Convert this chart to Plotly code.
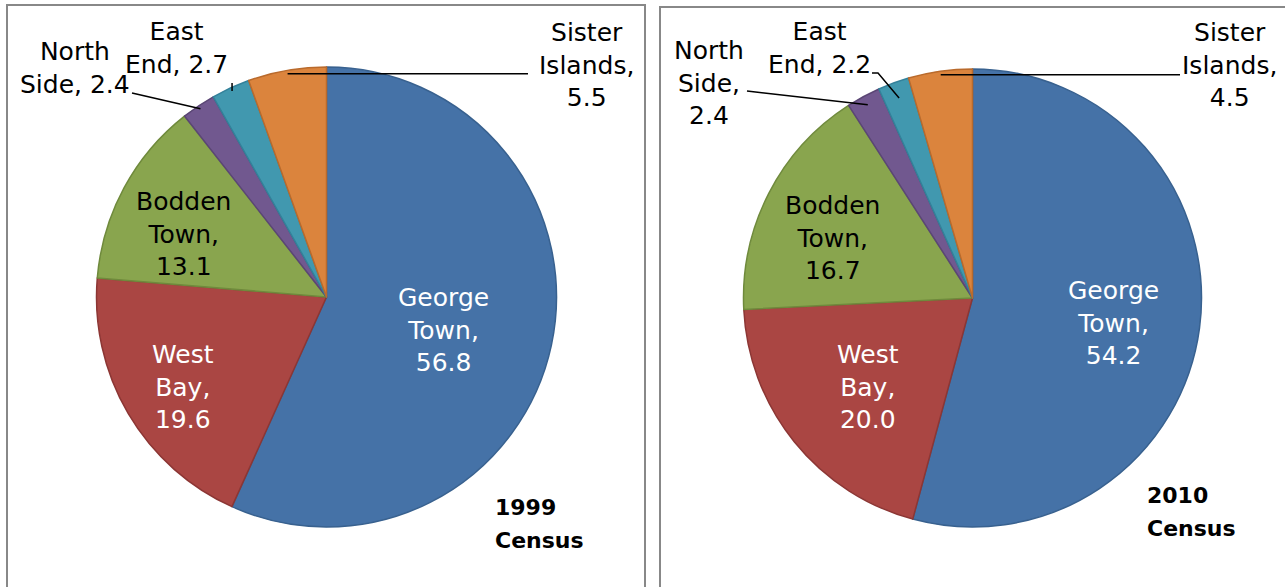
import math
import plotly.graph_objects as go

# ---- data ----
districts = ["George Town", "West Bay", "Bodden Town", "North Side", "East End", "Sister Islands"]
values_1999 = [56.8, 19.6, 13.1, 2.4, 2.7, 5.5]
values_2010 = [54.2, 20.0, 16.7, 2.4, 2.2, 4.5]
census_labels = [["1999", "Census"], ["2010", "Census"]]

# ---- style ----
W, H = 1285, 587
fill_colors = ["#4572A7", "#AA4643", "#89A54E", "#71588F", "#4198AF", "#DB843D"]
edge_colors = ["#38618F", "#8C3634", "#6F8A3C", "#5B4675", "#33819A", "#B96A2C"]
FONT = "DejaVu Sans"
FS = 25

# pie geometry (pixels): centre x, centre y, radius
pies = [
    dict(cx=326.5, cy=297.0, r=230.0),
    dict(cx=972.5, cy=298.0, r=229.0),
]

# label placement (pixels) per pie: text centre, colour
label_pos = [
    {
        "George Town": (443, 330, "white"),
        "West Bay": (183, 387, "white"),
        "Bodden Town": (183, 234, "black"),
        "North Side": (75, 68, "black"),
        "East End": (176, 48, "black"),
        "Sister Islands": (586, 65, "black"),
    },
    {
        "George Town": (1113, 323, "white"),
        "West Bay": (868, 387, "white"),
        "Bodden Town": (832, 238, "black"),
        "North Side": (709, 83, "black"),
        "East End": (820, 48, "black"),
        "Sister Islands": (1229, 65, "black"),
    },
]
label_text = [
    {
        "George Town": "George<br>Town,<br>{v}",
        "West Bay": "West<br>Bay,<br>{v}",
        "Bodden Town": "Bodden<br>Town,<br>{v}",
        "North Side": "North<br>Side, {v}",
        "East End": "East<br>End, {v}",
        "Sister Islands": "Sister<br>Islands,<br>{v}",
    },
    {
        "George Town": "George<br>Town,<br>{v}",
        "West Bay": "West<br>Bay,<br>{v}",
        "Bodden Town": "Bodden<br>Town,<br>{v}",
        "North Side": "North<br>Side,<br>{v}",
        "East End": "East<br>End, {v}",
        "Sister Islands": "Sister<br>Islands,<br>{v}",
    },
]
# leader line label-side points (pixels); "h" = horizontal to x, "v" = vertical to y
leaders = [
    {
        "North Side": ([("pt", 132, 93)], 0.985),
        "East End": ([("v", None, 83)], 0.985),
        "Sister Islands": ([("h", 528, None)], 0.985),
    },
    {
        "North Side": ([("pt", 747, 91)], 0.96),
        "East End": ([("pt", 878, 73), ("pt", 872, 73)], 0.93),
        "Sister Islands": ([("h", 1180, None)], 0.985),
    },
]
census_pos = [(493, 507), (1145, 495)]
CENSUS_LINE = 33


def px(x):
    return x / W


def py(y):
    return 1 - y / H


fig = go.Figure()
annotations = []
shapes = []

for k, vals in enumerate([values_1999, values_2010]):
    g = pies[k]
    fig.add_trace(go.Pie(
        labels=districts,
        values=vals,
        sort=False,
        direction="clockwise",
        rotation=0,
        textinfo="none",
        hoverinfo="label+value",
        marker=dict(colors=fill_colors, line=dict(color=edge_colors, width=1.5)),
        domain=dict(
            x=[px(g["cx"] - g["r"]), px(g["cx"] + g["r"])],
            y=[py(g["cy"] + g["r"]), py(g["cy"] - g["r"])],
        ),
        showlegend=False,
    ))

    total = sum(vals)
    cum = 0.0
    for name, v in zip(districts, vals):
        mid = (cum + v / 2) / total * 2 * math.pi
        cum += v
        lx, ly, col = label_pos[k][name]
        annotations.append(dict(
            x=px(lx), y=py(ly), xref="paper", yref="paper",
            text=label_text[k][name].format(v=f"{v:.1f}"),
            showarrow=False, align="center", xanchor="center", yanchor="middle",
            font=dict(family=FONT, size=FS, color=col),
        ))
        if name in leaders[k]:
            steps, rf = leaders[k][name]
            sx = g["cx"] + rf * g["r"] * math.sin(mid)
            sy = g["cy"] - rf * g["r"] * math.cos(mid)
            pts = [(sx, sy)]
            for kind, a, b in steps:
                if kind == "h":
                    pts.append((a, pts[-1][1]))
                elif kind == "v":
                    pts.append((pts[-1][0], b))
                else:
                    pts.append((a, b))
            path = "M " + " L ".join(f"{px(x):.5f},{py(y):.5f}" for x, y in pts)
            shapes.append(dict(type="path", path=path, xref="paper", yref="paper",
                               line=dict(color="black", width=1.5)))

    cx_, cy_ = census_pos[k]
    for i, line in enumerate(census_labels[k]):
        annotations.append(dict(
            x=px(cx_), y=py(cy_ + i * CENSUS_LINE), xref="paper", yref="paper",
            text=f"<b>{line}</b>", showarrow=False,
            align="left", xanchor="left", yanchor="middle",
            font=dict(family=FONT, size=22, color="black"),
        ))

# chart frames
shapes.append(dict(type="rect", xref="paper", yref="paper",
                   x0=px(7), x1=px(645), y0=py(H + 20), y1=py(5),
                   line=dict(color="#888888", width=2), layer="below"))
shapes.append(dict(type="rect", xref="paper", yref="paper",
                   x0=px(660), x1=px(W + 20), y0=py(H + 20), y1=py(7),
                   line=dict(color="#888888", width=2), layer="below"))

fig.update_layout(
    width=W, height=H,
    margin=dict(l=0, r=0, t=0, b=0),
    paper_bgcolor="white", plot_bgcolor="white",
    annotations=annotations, shapes=shapes,
    font=dict(family=FONT),
)

fig.write_html(
    "out.html",
    config={"displayModeBar": False},
    post_script="document.body.style.margin='0';document.body.style.overflow='hidden';",
)
